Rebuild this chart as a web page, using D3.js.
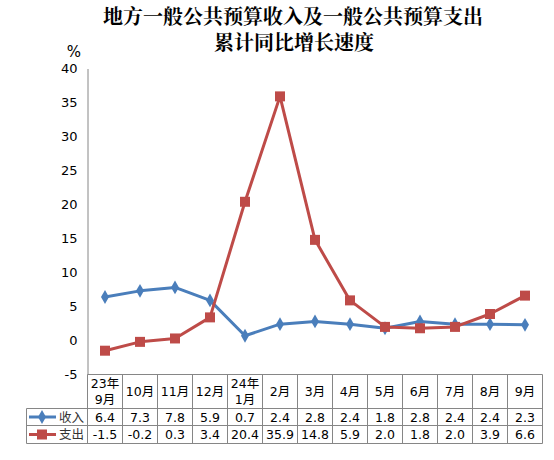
<!DOCTYPE html>
<html>
<head>
<meta charset="utf-8" />
<title>地方一般公共预算收入及支出累计同比增长速度</title>
<style>
  body { margin: 0; background: #fff; }
  svg text { font-family: "DejaVu Sans", "Noto Sans CJK SC", sans-serif; }
</style>
</head>
<body>
<script src="https://d3js.org/d3.v7.min.js"></script>
<script>

  // data
  var categories = ["23年\n9月", "10月", "11月", "12月", "24年\n1月", "2月", "3月", "4月", "5月", "6月", "7月", "8月", "9月"];
  var income = [6.4, 7.3, 7.8, 5.9, 0.7, 2.4, 2.8, 2.4, 1.8, 2.8, 2.4, 2.4, 2.3];
  var expense = [-1.5, -0.2, 0.3, 3.4, 20.4, 35.9, 14.8, 5.9, 2.0, 1.8, 2.0, 3.9, 6.6];
  var yTicks = [-5, 0, 5, 10, 15, 20, 25, 30, 35, 40];
  var seriesNames = ["收入", "支出"];

  var width = 554, height = 460;
  var plotLeft = 87.5, plotRight = 542.5, plotTop = 68.5, plotBottom = 374.5;
  var tableLeft = 26.5;
  var rowY = [374.5, 408.5, 425.5, 443.5];
  var blue = "#4A7EBB", red = "#BE4B48", grid = "#868686";

  var svg = d3.select("body").append("svg")
              .attr("width", width)
              .attr("height", height);

  // title
  var titleFont = "'Noto Serif CJK SC', 'Noto Sans CJK SC', serif";
  svg.append("text")
     .attr("x", 293).attr("y", 24)
     .attr("text-anchor", "middle")
     .attr("font-size", "20px")
     .attr("font-weight", "bold")
     .style("font-family", titleFont)
     .text("地方一般公共预算收入及一般公共预算支出");
  svg.append("text")
     .attr("x", 294).attr("y", 50)
     .attr("text-anchor", "middle")
     .attr("font-size", "20px")
     .attr("font-weight", "bold")
     .style("font-family", titleFont)
     .text("累计同比增长速度");

  var x = d3.scaleBand()
            .domain(d3.range(categories.length))
            .range([plotLeft, plotRight]);

  var y = d3.scaleLinear()
            .domain([-5, 40])
            .range([plotBottom, plotTop]);

  // y axis
  var yAxis = d3.axisLeft(y).tickValues(yTicks).tickSize(0).tickPadding(10)
                .tickFormat(function(d) { return String(d); });
  var ay = svg.append("g")
     .attr("transform", "translate(" + plotLeft + ",0)")
     .call(yAxis);
  ay.select(".domain").attr("stroke", grid);
  ay.selectAll("text").attr("font-size", "13px").attr("fill", "#000")
    .style("font-family", "'DejaVu Sans', sans-serif");

  svg.append("text")
     .attr("x", 74).attr("y", 57)
     .attr("text-anchor", "middle")
     .attr("font-size", "15px")
     .text("%");

  // table grid
  var tg = svg.append("g").attr("stroke", grid).attr("stroke-width", 1);
  tg.append("line").attr("x1", plotLeft).attr("x2", plotRight).attr("y1", rowY[0]).attr("y2", rowY[0]);
  rowY.slice(1).forEach(function(yy) {
    tg.append("line").attr("x1", tableLeft).attr("x2", plotRight).attr("y1", yy).attr("y2", yy);
  });
  d3.range(categories.length + 1).forEach(function(i) {
    var xx = i < categories.length ? x(i) : plotRight;
    tg.append("line").attr("x1", xx).attr("x2", xx).attr("y1", rowY[0]).attr("y2", rowY[3]);
  });
  tg.append("line").attr("x1", tableLeft).attr("x2", tableLeft).attr("y1", rowY[1]).attr("y2", rowY[3]);

  // category labels
  var cat = svg.append("g").attr("font-size", "12.5px").attr("text-anchor", "middle");
  categories.forEach(function(c, i) {
    var lines = c.split("\n");
    var t = cat.append("text");
    var cy = (rowY[0] + rowY[1]) / 2;
    var y0 = cy - (lines.length - 1) * 8 + 4.5;
    lines.forEach(function(l, j) {
      t.append("tspan").attr("x", x(i) + x.bandwidth() / 2).attr("y", y0 + j * 16).text(l);
    });
  });

  // value rows
  [income, expense].forEach(function(vals, r) {
    var cy = (rowY[r + 1] + rowY[r + 2]) / 2 + 4.5;
    svg.append("g").attr("font-size", "12.5px").attr("text-anchor", "middle")
       .selectAll("text").data(vals).enter().append("text")
       .attr("x", function(d, i) { return x(i) + x.bandwidth() / 2; })
       .attr("y", cy)
       .text(function(d) { return d.toFixed(1); });
  });

  // legend keys inside table
  var colors = [blue, red];
  var shapes = [d3.symbolDiamond, d3.symbolSquare];
  var sizes = [55, 100];
  seriesNames.forEach(function(n, r) {
    var cy = (rowY[r + 1] + rowY[r + 2]) / 2;
    var g = svg.append("g");
    g.append("line").attr("x1", 29).attr("x2", 56).attr("y1", cy).attr("y2", cy)
     .attr("stroke", colors[r]).attr("stroke-width", 3);
    g.append("path").attr("d", d3.symbol().type(shapes[r]).size(sizes[r]))
     .attr("transform", "translate(42," + cy + ")").attr("fill", colors[r]);
    g.append("text").attr("x", 84).attr("y", cy + 4.5).attr("text-anchor", "end")
     .attr("font-size", "12.5px").attr("fill", "#333").text(n);
  });

  // lines
  var line = d3.line()
               .x(function(d, i) { return x(i) + x.bandwidth() / 2; })
               .y(function(d) { return y(d); });

  [income, expense].forEach(function(vals, r) {
    svg.append("path").datum(vals)
       .attr("d", line)
       .attr("fill", "none")
       .attr("stroke", colors[r])
       .attr("stroke-width", 3)
       .attr("stroke-linejoin", "round");
  });

  [income, expense].forEach(function(vals, r) {
    svg.append("g").selectAll("path").data(vals).enter().append("path")
       .attr("d", d3.symbol().type(shapes[r]).size(sizes[r]))
       .attr("transform", function(d, i) {
         return "translate(" + (x(i) + x.bandwidth() / 2) + "," + y(d) + ")";
       })
       .attr("fill", colors[r]);
  });

</script>
</body>
</html>
